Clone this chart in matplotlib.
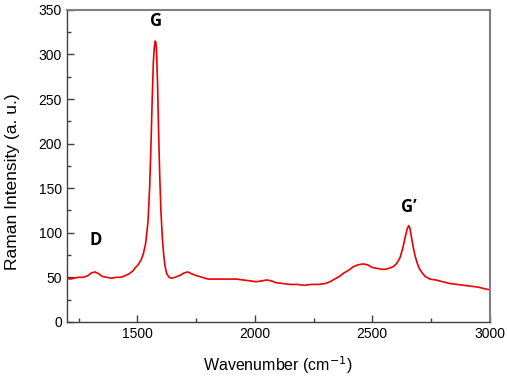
import matplotlib
matplotlib.use("Agg")
import matplotlib.pyplot as plt
from matplotlib.ticker import MultipleLocator

wavenumber = [1200, 1215, 1230, 1250, 1270, 1290, 1305, 1320, 1335, 1350, 1370, 1390, 1410, 1430,
              1450, 1465, 1480, 1492, 1503, 1515, 1525, 1535, 1545, 1552, 1558, 1563, 1568, 1572,
              1576, 1579, 1582, 1586, 1590, 1595, 1600, 1606, 1612, 1618, 1625, 1635, 1645, 1660,
              1680, 1700, 1715, 1730, 1750, 1775, 1800, 1830, 1860, 1890, 1920, 1950, 1980, 2005,
              2030, 2050, 2070, 2090, 2120, 2150, 2180, 2210, 2240, 2270, 2300, 2320, 2340, 2360,
              2380, 2400, 2420, 2440, 2460, 2480, 2500, 2520, 2540, 2555, 2570, 2590, 2605, 2618,
              2630, 2640, 2648, 2655, 2660, 2666, 2674, 2682, 2691, 2700, 2712, 2725, 2745, 2770,
              2800, 2830, 2860, 2890, 2920, 2950, 2980, 3000]
intensity = [49, 48, 49, 50, 50, 52, 55, 56, 54, 51, 50, 49, 50, 50,
             52, 54, 57, 61, 64, 69, 76, 88, 112, 150, 200, 250, 292, 308,
             315, 313, 300, 265, 215, 165, 125, 95, 75, 62, 54, 50, 49, 50,
             52, 55, 56, 54, 52, 50, 48, 48, 48, 48, 48, 47, 46, 45,
             46, 47, 46, 44, 43, 42, 42, 41, 42, 42, 43, 45, 48, 51,
             55, 58, 62, 64, 65, 64, 61, 60, 59, 59, 60, 62, 66, 72,
             83, 95, 104, 108, 105, 96, 84, 74, 66, 60, 55, 51, 48, 47,
             45, 43, 42, 41, 40, 39, 37, 36]

fig = plt.figure(figsize=(5.07, 3.80), dpi=100)
ax = fig.add_axes([0.132, 0.153, 0.834, 0.821])
ax.plot(wavenumber, intensity, color="#ee0000", lw=1.2)

ax.set_xlim(1200, 3000)
ax.set_ylim(0, 350)
ax.xaxis.set_major_locator(MultipleLocator(500))
ax.xaxis.set_minor_locator(MultipleLocator(250))
ax.yaxis.set_major_locator(MultipleLocator(50))
ax.yaxis.set_minor_locator(MultipleLocator(25))
ax.tick_params(which="both", direction="in", top=False, right=False, colors="#404040",
               labelcolor="black", labelsize=10)
ax.tick_params(which="major", length=5, width=1)
ax.tick_params(which="minor", length=3, width=1)
for side in ["left", "bottom"]:
    ax.spines[side].set_color("#404040")
    ax.spines[side].set_linewidth(1.0)
for side in ["top", "right"]:
    ax.spines[side].set_color("#808080")
    ax.spines[side].set_linewidth(1.5)

for lab in ax.get_xticklabels() + ax.get_yticklabels():
    lab.set_family("Liberation Sans")

ax.set_xlabel("Wavenumber (cm$^{-1}$)", family="Liberation Sans", fontsize=11.5, labelpad=10)
ax.set_ylabel("Raman Intensity (a. u.)", family="Liberation Sans", fontsize=12.5)
ax.yaxis.set_label_coords(-0.112, 0.45)

peak_font = dict(family="Open Sans", fontweight="bold", fontsize=12, ha="center", va="center")
ax.text(1578, 337, "G", **peak_font)
ax.text(1322, 92, "D", **peak_font)
ax.text(2656, 129, "G\u2019", **peak_font)

fig.savefig("out.png", dpi=100)
